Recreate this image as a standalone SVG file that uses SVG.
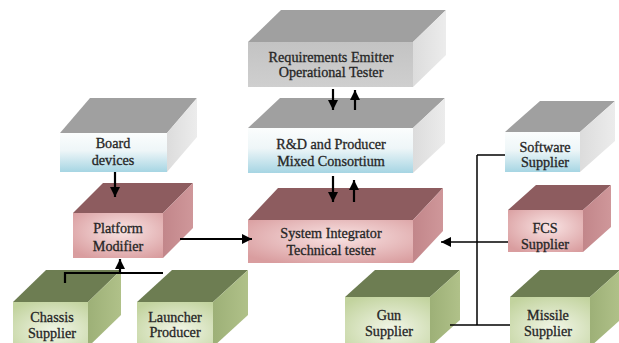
<svg xmlns="http://www.w3.org/2000/svg" width="619" height="343" viewBox="0 0 619 343">
<style>
.gtop{fill:#a0a0a0}
.gside{fill:url(#gSide)}
.ptop{fill:#8d5c5f}
.pside{fill:url(#pSide)}
.vtop{fill:#6d7d52}
.vside{fill:url(#vSide)}
.fg{fill:url(#grayF)}
.fb{fill:url(#blueF)}
.fp{fill:url(#pinkF)}
.fv{fill:url(#greenF)}
text{font-family:'Liberation Serif','DejaVu Serif',serif;font-size:14.2px;fill:#262626;stroke:#262626;stroke-width:0.3;text-anchor:middle}
.ln{stroke:#000;stroke-width:2.2;fill:none}
.thin{stroke:#000;stroke-width:1.5;fill:none}
</style>
<defs>
<linearGradient id="grayF" x1="0" y1="0" x2="0" y2="1"><stop offset="0" stop-color="#c3c3c3"/><stop offset="1" stop-color="#cfcfcf"/></linearGradient>
<linearGradient id="gSide" x1="0" y1="0" x2="1" y2="0"><stop offset="0" stop-color="#dcdcdc"/><stop offset="1" stop-color="#ececec"/></linearGradient>
<linearGradient id="blueF" x1="0" y1="0" x2="0" y2="1"><stop offset="0" stop-color="#fbfdfd"/><stop offset="0.45" stop-color="#eef6f8"/><stop offset="1" stop-color="#a6d5e3"/></linearGradient>
<radialGradient id="pinkF" cx="0.55" cy="0.4" r="0.7"><stop offset="0" stop-color="#f9e3e3"/><stop offset="1" stop-color="#d99d9f"/></radialGradient>
<linearGradient id="pSide" x1="0" y1="0" x2="1" y2="0"><stop offset="0" stop-color="#c2868a"/><stop offset="1" stop-color="#cf979a"/></linearGradient>
<radialGradient id="greenF" cx="0.55" cy="0.65" r="0.75"><stop offset="0" stop-color="#f2f6e8"/><stop offset="1" stop-color="#c2d39e"/></radialGradient>
<linearGradient id="vSide" x1="0" y1="0" x2="1" y2="0"><stop offset="0" stop-color="#9db077"/><stop offset="1" stop-color="#b0c189"/></linearGradient>
<marker id="ah" viewBox="0 0 10 10" refX="10" refY="5" markerWidth="10" markerHeight="10" markerUnits="userSpaceOnUse" orient="auto"><path d="M0,0 L10,5 L0,10 z" fill="#000"/></marker>
</defs>
<rect width="619" height="343" fill="#fff"/>

<g id="requirements">
<polygon class="gtop" points="248,42 281,10 446,10 413,42"/>
<polygon class="gside" points="413,42 446,10 446,55 413,87"/>
<rect class="fg" x="248" y="42" width="165" height="45"/>
<text x="331" y="62">Requirements Emitter</text>
<text x="331" y="77">Operational Tester</text>
</g>

<g id="rd">
<polygon class="gtop" points="248,128 280,98 445,98 413,128"/>
<polygon class="gside" points="413,128 445,98 445,143 413,173"/>
<rect class="fb" x="248" y="128" width="165" height="45"/>
<text x="331" y="149">R&amp;D and Producer</text>
<text x="331" y="166">Mixed Consortium</text>
</g>

<g id="integrator">
<polygon class="ptop" points="248,220 278,188 443,188 413,220"/>
<polygon class="pside" points="413,220 443,188 443,231 413,263"/>
<rect class="fp" x="248" y="220" width="165" height="43"/>
<text x="331" y="238">System Integrator</text>
<text x="331" y="255">Technical tester</text>
</g>

<g id="board">
<polygon class="gtop" points="60,133 90,98 197,98 167,133"/>
<polygon class="gside" points="167,133 197,98 197,137 167,172"/>
<rect class="fb" x="60" y="133" width="107" height="39"/>
<text x="113" y="148">Board</text>
<text x="113" y="165">devices</text>
</g>

<g id="platform">
<polygon class="ptop" points="73,213 103,183 193,183 163,213"/>
<polygon class="pside" points="163,213 193,183 193,228 163,258"/>
<rect class="fp" x="73" y="213" width="90" height="45"/>
<text x="118" y="233">Platform</text>
<text x="118" y="251">Modifier</text>
</g>

<g id="chassis">
<polygon class="vtop" points="13,302 46,270 121,270 88,302"/>
<polygon class="vside" points="88,302 121,270 121,315 88,347"/>
<rect class="fv" x="13" y="302" width="75" height="45"/>
<text x="52" y="322">Chassis</text>
<text x="52" y="338">Supplier</text>
</g>

<g id="launcher">
<polygon class="vtop" points="137,302 172,270 248,270 213,302"/>
<polygon class="vside" points="213,302 248,270 248,315 213,347"/>
<rect class="fv" x="137" y="302" width="76" height="45"/>
<text x="175" y="322">Launcher</text>
<text x="175" y="337">Producer</text>
</g>

<g id="gun">
<polygon class="vtop" points="345,297 375,270 460,270 430,297"/>
<polygon class="vside" points="430,297 460,270 460,320 430,347"/>
<rect class="fv" x="345" y="297" width="85" height="50"/>
<text x="389" y="320">Gun</text>
<text x="389" y="336">Supplier</text>
</g>

<g id="missile">
<polygon class="vtop" points="510,297 540,270 620,270 590,297"/>
<polygon class="vside" points="590,297 620,270 620,320 590,347"/>
<rect class="fv" x="510" y="297" width="80" height="50"/>
<text x="548" y="320">Missile</text>
<text x="548" y="336">Supplier</text>
</g>

<g id="software">
<polygon class="gtop" points="505,132 540,101 615,101 580,132"/>
<polygon class="gside" points="580,132 615,101 615,141 580,172"/>
<rect class="fb" x="505" y="132" width="75" height="40"/>
<text x="545" y="152">Software</text>
<text x="545" y="167">Supplier</text>
</g>

<g id="fcs">
<polygon class="ptop" points="508,210 536,185 611,185 583,210"/>
<polygon class="pside" points="583,210 611,185 611,227 583,252"/>
<rect class="fp" x="508" y="210" width="75" height="42"/>
<text x="545" y="233">FCS</text>
<text x="545" y="249">Supplier</text>
</g>

<g id="connectors">
<line class="ln" x1="333" y1="89" x2="333" y2="110" marker-end="url(#ah)"/>
<line class="ln" x1="355" y1="110" x2="355" y2="90" marker-end="url(#ah)"/>
<line class="ln" x1="333" y1="176" x2="333" y2="202" marker-end="url(#ah)"/>
<line class="ln" x1="354" y1="202" x2="354" y2="180" marker-end="url(#ah)"/>
<line class="ln" x1="115" y1="172" x2="115" y2="197" marker-end="url(#ah)"/>
<polyline class="ln" points="65,283 65,273 163,273"/>
<line class="ln" x1="120" y1="273" x2="120" y2="259" marker-end="url(#ah)"/>
<line class="ln" x1="180" y1="239" x2="252" y2="239" marker-end="url(#ah)"/>
<line class="thin" x1="477" y1="155" x2="477" y2="325"/>
<line class="thin" x1="477" y1="155" x2="505" y2="155"/>
<line class="thin" x1="508" y1="242" x2="441" y2="242" marker-end="url(#ah)"/>
<line class="thin" x1="450" y1="325" x2="510" y2="325"/>
</g>
</svg>
